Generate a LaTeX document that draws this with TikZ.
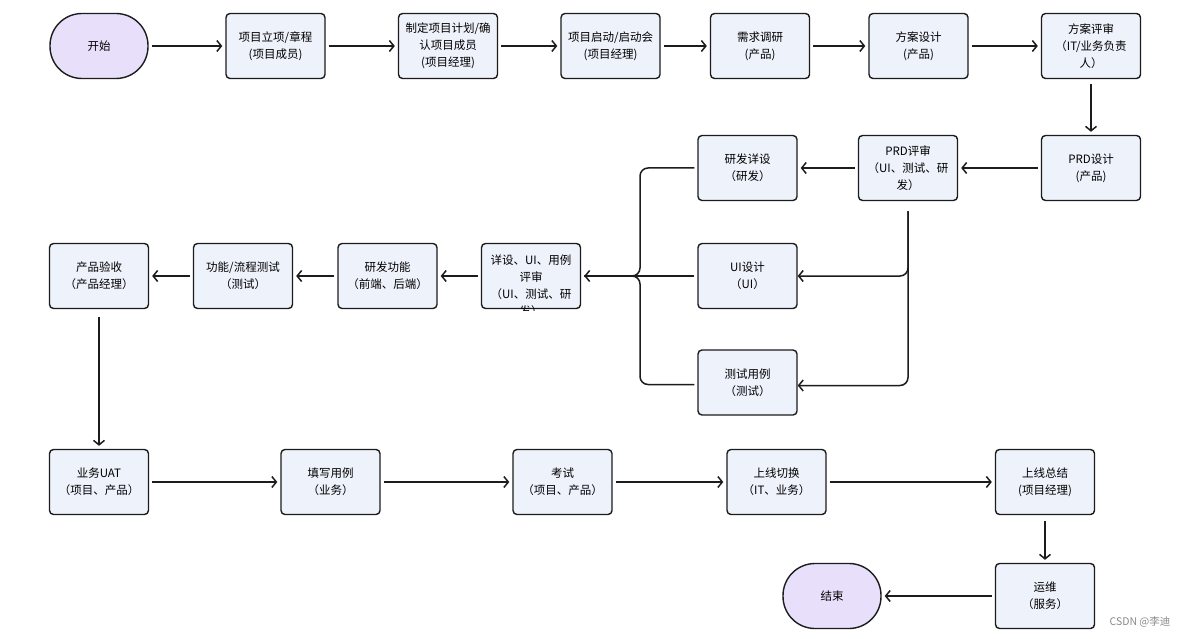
\documentclass[tikz,border=0pt]{standalone}
\usepackage{fontspec}
\setmainfont{Noto Sans CJK SC}
\usetikzlibrary{arrows.meta}
\definecolor{boxfill}{HTML}{EEF2FB}
\definecolor{termfill}{HTML}{E8E0FB}
\definecolor{edgec}{HTML}{1C1C1C}
\definecolor{markc}{HTML}{8A8A8A}
\begin{document}
\begin{tikzpicture}[x=1pt,y=-1pt,
  box/.style={draw=edgec, line width=1.4pt, rounded corners=4pt, fill=boxfill,
    minimum width=99pt, minimum height=65pt, align=center, inner sep=1pt,
    font=\fontsize{11.5}{17}\selectfont},
  term/.style={box, fill=termfill, rounded corners=32pt, minimum width=98pt},
  arr/.style={draw=edgec, line width=1.5pt, -{Straight Barb[length=4.5pt,width=11pt]},
    shorten >=3pt, shorten <=3pt},
  plain/.style={draw=edgec, line width=1.5pt, shorten <=3pt, shorten >=3pt}]
\useasboundingbox (0,0) rectangle (1190,639);
\fill[white] (0,0) rectangle (1190,639);
% row 1
\node[term] (start) at (99,46) {开始};
\node[box] (n1) at (275.5,46) {项目立项/章程\\(项目成员)};
\node[box] (n2) at (448,46) {制定项目计划/确\\认项目成员\\(项目经理)};
\node[box] (n3) at (610.5,46) {项目启动/启动会\\(项目经理)};
\node[box] (n4) at (760,46) {需求调研\\(产品)};
\node[box] (n5) at (918.5,46) {方案设计\\(产品)};
\node[box] (n6) at (1091,46) {方案评审\\（IT/业务负责\\人）};
% row 2
\node[box] (prd) at (1091,168) {PRD设计\\(产品)};
\node[box] (prdr) at (908,168) {PRD评审\\（UI、测试、研\\发）};
\node[box] (yfxs) at (747.5,168) {研发详设\\（研发）};
\node[box] (ui) at (747.5,276) {UI设计\\（UI）};
\node[box] (cs) at (747.5,382.5) {测试用例\\（测试）};
\node[box] (rv) at (531,276) {};
\begin{scope}
  \clip ([xshift=1pt,yshift=-1pt]rv.south west) rectangle ([xshift=-1pt,yshift=1pt]rv.north east);
  \node[align=center, inner sep=0pt, font=\fontsize{11.5}{17}\selectfont] (rvt) at (531,285.5)
    {详设、UI、用例\\评审\\（UI、测试、研\\发）};
\end{scope}
\node[box] (dev) at (387.5,276) {研发功能\\（前端、后端）};
\node[box] (tst) at (243,276) {功能/流程测试\\（测试）};
\node[box] (acc) at (99,276) {产品验收\\（产品经理）};
% row 3
\node[box] (uat) at (99,482) {业务UAT\\（项目、产品）};
\node[box] (fill) at (330.5,482) {填写用例\\（业务）};
\node[box] (exam) at (562.5,482) {考试\\（项目、产品）};
\node[box] (golive) at (776.5,482) {上线切换\\（IT、业务）};
\node[box] (sum) at (1045,482) {上线总结\\(项目经理)};
\node[box] (ops) at (1045,596) {运维\\（服务）};
\node[term] (fin) at (832,596) {结束};
\node[text=markc, font=\fontsize{10.5}{12}\selectfont, inner sep=0pt] (csdn) at (1140,622) {CSDN @李迪};
% connectors row 1
\draw[arr] (start) -- (n1);
\draw[arr] (n1) -- (n2);
\draw[arr] (n2) -- (n3);
\draw[arr] (n3) -- (n4);
\draw[arr] (n4) -- (n5);
\draw[arr] (n5) -- (n6);
\draw[arr, shorten <=5pt] (n6) -- (prd);
% row 2
\draw[arr] (prd) -- (prdr);
\draw[arr] (prdr) -- (yfxs);
\draw[arr, rounded corners=8pt, shorten <=10pt, shorten >=0pt] (prdr.south) |- (ui.east);
\draw[arr, rounded corners=8pt, shorten <=10pt, shorten >=0pt] (prdr.south) |- ([yshift=-3pt]cs.east);
\coordinate (jn) at (640,276);
\draw[plain, rounded corners=8pt] (yfxs.west) -| (jn) -- (rv.east);
\draw[plain, rounded corners=8pt] ([yshift=-2pt]cs.west) -| (jn) -- (rv.east);
\draw[arr] (ui) -- (rv);
\draw[arr] (rv) -- (dev);
\draw[arr] (dev) -- (tst);
\draw[arr] (tst) -- (acc);
\draw[arr, shorten <=8pt] (acc) -- (uat);
% row 3
\draw[arr] (uat) -- (fill);
\draw[arr] (fill) -- (exam);
\draw[arr] (exam) -- (golive);
\draw[arr] (golive) -- (sum);
\draw[arr, shorten <=6pt] (sum) -- (ops);
\draw[arr] (ops) -- (fin);
\end{tikzpicture}
\end{document}
